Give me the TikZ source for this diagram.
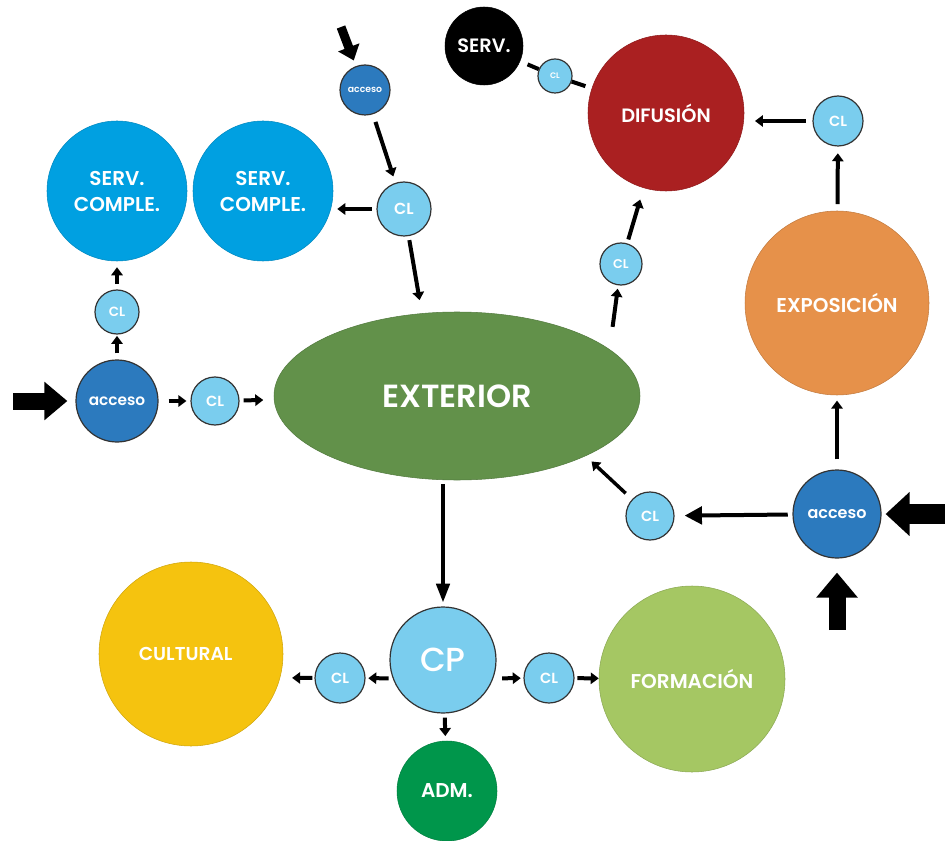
\documentclass[tikz,border=0pt]{standalone}
\usepackage{fontspec}
\setmainfont{Poppins}[BoldFont={Poppins SemiBold}]
\newfontfamily\cpfont{Poppins Medium}
\usetikzlibrary{arrows.meta,shapes.geometric}

\definecolor{servblue}{RGB}{0,160,225}
\definecolor{accblue}{RGB}{44,122,190}
\definecolor{clblue}{RGB}{122,205,238}
\definecolor{extgreen}{RGB}{98,145,74}
\definecolor{difred}{RGB}{170,32,33}
\definecolor{expoorange}{RGB}{230,145,74}
\definecolor{cultyellow}{RGB}{245,195,15}
\definecolor{formgreen}{RGB}{165,199,99}
\definecolor{admgreen}{RGB}{0,150,75}

\tikzset{
  dia/.style={minimum size=#1*0.75pt},
  room/.style={circle, inner sep=0pt, fill=#1, draw=#1!85!black, line width=0.4pt,
    text=white, align=center, font=\bfseries\fontsize{15}{19.5}\selectfont},
  hub/.style={circle, inner sep=0pt, fill=#1, draw=black!80, line width=0.9pt, text=white},
  cltext/.style={font=\bfseries\fontsize{#1}{#1}\selectfont},
  acctext/.style={font=\bfseries\fontsize{#1}{#1}\selectfont},
  arr/.style={line width=3pt, -{Triangle[length=6pt,width=8.5pt]}},
  link/.style={line width=3pt},
  block/.style n args={3}{line width=#1, -{Triangle[width=#2,length=#3]}},
}

\begin{document}
\begin{tikzpicture}[x=0.75pt,y=-0.75pt]
\useasboundingbox (0,0) rectangle (945,841);

% ---------- areas ----------
\node[ellipse, inner sep=0pt, minimum width=366*0.75pt, minimum height=168*0.75pt,
      fill=extgreen, draw=extgreen!85!black, line width=0.4pt, text=white,
      font=\bfseries\fontsize{24}{24}\selectfont] (ext) at (457,396) {EXTERIOR};

\node[room=servblue, dia=140] (serv1) at (117,191) {SERV.\\COMPLE.};
\node[room=servblue, dia=140] (serv2) at (263,191) {SERV.\\COMPLE.};
\node[room=black, dia=78, font=\bfseries\fontsize{14.5}{14.5}\selectfont] (servb) at (484,46) {SERV.};
\node[room=difred, dia=156, font=\bfseries\fontsize{14.5}{14.5}\selectfont] (dif) at (666,113) {DIFUSIÓN};
\node[room=expoorange, dia=184] (expo) at (837,303) {EXPOSICIÓN};
\node[room=cultyellow, dia=184, font=\bfseries\fontsize{14}{14}\selectfont] (cult) at (191,654) {\kern-8pt CULTURAL};
\node[room=formgreen, dia=186] (form) at (692,679) {FORMACIÓN};
\node[room=admgreen, dia=100] (adm) at (447,791) {ADM.};
\node[hub=clblue, dia=106, font=\cpfont\fontsize{25}{25}\selectfont] (cp) at (443,660) {CP};

% ---------- entrances ----------
\node[hub=accblue, dia=82, acctext=11.5] (accL) at (117,401) {acceso};
\node[hub=accblue, dia=50, acctext=7] (accT) at (365,90) {acceso};
\node[hub=accblue, dia=88, acctext=12] (accR) at (837,514) {acceso};

% ---------- corridors ----------
\node[hub=clblue, dia=54, cltext=12] (clT) at (404,209) {CL};
\node[hub=clblue, dia=44, cltext=10] (clV) at (117,312) {CL};
\node[hub=clblue, dia=48, cltext=11] (clH) at (215,401) {CL};
\node[hub=clblue, dia=34, cltext=6] (clS) at (555,76) {CL};
\node[hub=clblue, dia=50, cltext=11] (clR) at (838,121) {CL};
\node[hub=clblue, dia=42, cltext=9.5] (clM) at (621,264) {CL};
\node[hub=clblue, dia=48, cltext=11] (clBR) at (650,516) {CL};
\node[hub=clblue, dia=50, cltext=11] (clL) at (340,678) {CL};
\node[hub=clblue, dia=50, cltext=11] (clRR) at (549,678) {CL};

% ---------- outside entry points ----------
\coordinate (inL) at (13,401);
\coordinate (inT) at (341,27);
\coordinate (inR) at (945,514);
\coordinate (inB) at (837,630);

\draw[block={12.75pt}{27.75pt}{17.25pt}, shorten >=6pt] (inL) -- (accL);
\draw[block={6.75pt}{16.5pt}{10.5pt}, shorten >=4.5pt] (inT) -- (accT);
\draw[block={15pt}{32pt}{18pt}, shorten >=3pt] (inR) -- (accR);
\draw[block={12.75pt}{30pt}{18.75pt}, shorten >=10.5pt] (inB) -- (accR);

% ---------- left wing ----------
\draw[arr, shorten <=6pt, shorten >=5pt] (accT) -- (clT);
\draw[arr, shorten <=3.5pt, shorten >=3pt] (clT) -- (clT -| serv2.east);
\draw[arr, shorten <=3pt, shorten >=10pt] (clT) -- (ext.113);
\draw[arr, shorten <=4pt, shorten >=4.5pt] (clV) -- (serv1);
\draw[arr, shorten <=4.5pt, shorten >=1pt] (accL) -- (clV);
\draw[arr, shorten <=7.5pt, shorten >=3pt] (accL) -- (clH);
\draw[arr, shorten <=3pt, shorten >=8pt] (clH) -- (ext);

% ---------- right wing ----------
\draw[link, shorten <=6pt] (servb) -- (clS);
\draw[link, shorten >=5pt] (clS) -- (dif);
\draw[arr, shorten <=5pt, shorten >=8pt] (clR) -- (clR -| dif.east);
\draw[arr, shorten <=5pt, shorten >=5pt] (expo) -- (clR);
\draw[arr, shorten <=7.5pt, shorten >=4pt] (accR) -- (expo);
\draw[arr, shorten <=17pt, shorten >=2.5pt] (ext.17) -- (clM);
\draw[arr, shorten <=3pt, shorten >=9pt] (clM) -- (dif);
\draw[line width=3pt, -{Triangle[length=13pt,width=13pt]}, shorten <=3.5pt, shorten >=7.5pt] (accR) -- (clBR);
\draw[arr, line width=2.6pt, shorten <=6.5pt, shorten >=6pt] (clBR) -- (ext.-25);

% ---------- lower wing ----------
\draw[line width=2.6pt, -{Triangle[length=14pt,width=10pt]}, shorten <=3pt, shorten >=3pt] (cp |- ext.south) -- (cp);
\draw[arr, shorten <=3pt, shorten >=2pt] (cp.200) -- (clL);
\draw[arr, shorten <=1.5pt, shorten >=9pt] (clL) -- (cult.345);
\draw[arr, shorten <=6.5pt, shorten >=2pt] (cp.340) -- (clRR);
\draw[arr, shorten <=2pt, shorten >=0pt] (clRR) -- (form);
\draw[arr, shorten <=3pt, shorten >=3.5pt] (cp) -- (adm);
\end{tikzpicture}
\end{document}
